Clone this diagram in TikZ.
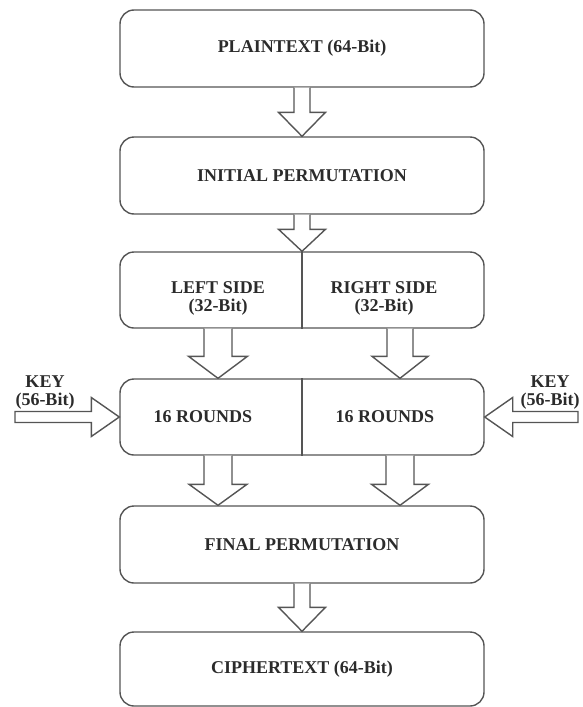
\documentclass[tikz,border=0pt]{standalone}
\usepackage{fontspec}
\setmainfont{Liberation Serif}
\usetikzlibrary{calc}

\definecolor{edge}{HTML}{555555}
\definecolor{ink}{HTML}{2B2B2B}

% hollow block arrow pointing down from #1 to #2
% #3 shaft half-width, #4 head half-width, #5 head length (pt)
\newcommand\downblock[5]{%
  \draw[blk] let \p1=(#1), \p2=(#2) in
    ({\x1-#3pt},\y1) -- ({\x1-#3pt},{\y2+#5pt}) -- ({\x1-#4pt},{\y2+#5pt})
    -- (\x1,\y2) -- ({\x1+#4pt},{\y2+#5pt}) -- ({\x1+#3pt},{\y2+#5pt})
    -- ({\x1+#3pt},\y1);}
% hollow block arrow running horizontally from #1 to #2
\newcommand\sideblock[5]{%
  \draw[blk] let \p1=(#1), \p2=(#2), \n1={sign(\x2-\x1)} in
    (\x1,{\y1-#3pt}) -- ({\x2-\n1*#5pt},{\y1-#3pt}) -- ({\x2-\n1*#5pt},{\y1-#4pt})
    -- (\x2,\y1) -- ({\x2-\n1*#5pt},{\y1+#4pt}) -- ({\x2-\n1*#5pt},{\y1+#3pt})
    -- (\x1,{\y1+#3pt}) -- cycle;}

\begin{document}
\begin{tikzpicture}[x=1pt,y=-1pt,
  font=\fontsize{18}{18}\selectfont\bfseries,
  box/.style={draw=edge,line width=1.4pt,rounded corners=14pt,
    minimum width=364pt,text=ink,inner sep=0pt},
  lbl/.style={text=ink,align=center,inner sep=0pt},
  blk/.style={draw=edge,line width=1.4pt,fill=white,line join=miter}]
\useasboundingbox (0,0) rectangle (582,707);

% stages
\node[box,minimum height=77pt] (plain)  at (302,48.5)  {PLAINTEXT (64-Bit)};
\node[box,minimum height=77pt] (init)   at (302,175.5) {INITIAL PERMUTATION};
\node[box,minimum height=76pt] (split)  at (302,290)   {};
\node[box,minimum height=76pt] (rounds) at (302,417)   {};
\node[box,minimum height=77pt] (final)  at (302,544.5) {FINAL PERMUTATION};
\node[box,minimum height=74pt] (cipher) at (302,669)   {CIPHERTEXT (64-Bit)};

% halves
\draw[draw=edge,line width=1.4pt] (split.north) -- (split.south);
\draw[draw=edge,line width=1.4pt] (rounds.north) -- (rounds.south);
\node[lbl] (lside)  at (218,298) {LEFT SIDE\\(32-Bit)};
\node[lbl] (rside)  at (384,298) {RIGHT SIDE\\(32-Bit)};
\node[lbl] (lround) at (203,417) {16 ROUNDS};
\node[lbl] (rround) at (385,417) {16 ROUNDS};

% arrow columns
\coordinate (colL) at (218,0);
\coordinate (colR) at (400,0);

% flow arrows
\downblock{plain.south}{init.north}{8}{23.5}{24}
\downblock{init.south}{split.north}{8}{23.5}{22}
\downblock{split.south -| colL}{rounds.north -| colL}{14}{29.5}{22}
\downblock{split.south -| colR}{rounds.north -| colR}{13}{28}{22}
\downblock{rounds.south -| colL}{final.north -| colL}{14}{29}{21}
\downblock{rounds.south -| colR}{final.north -| colR}{14}{28.5}{21}
\downblock{final.south}{cipher.north}{8}{23.5}{24}

% key inputs
\coordinate (kinL) at (15,417);
\coordinate (kinR) at (578,417);
\sideblock{kinL}{rounds.west}{5.5}{19.5}{28}
\sideblock{kinR}{rounds.east}{5.5}{19.5}{28}
\node[lbl] (keyL) at (45,393) {KEY\\(56-Bit)};
\node[lbl] (keyR) at (550,393) {KEY\\(56-Bit)};
\end{tikzpicture}
\end{document}
